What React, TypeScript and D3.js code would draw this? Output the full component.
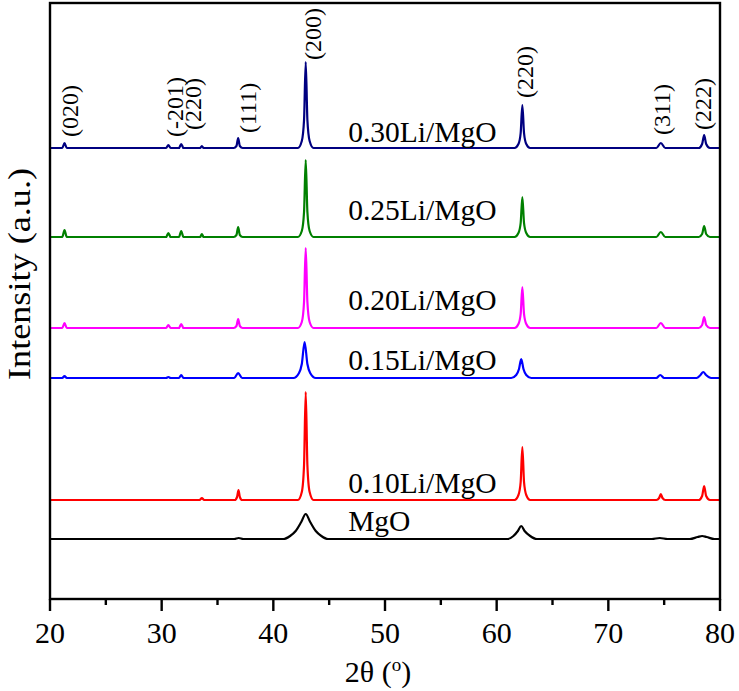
import React from "react";
import * as d3 from "d3";

type Pt = [number, number];

// XRD patterns: [2θ (deg), intensity (a.u.)], each measured from its own baseline
const MGO: Pt[] = [
  [20, 0], [36.5, 0], [36.9, 1], [37.3, 0], [40.9, 0], [41.5, 3], [42.0, 8], [42.5, 17], [42.9, 25],
  [43.3, 17], [43.8, 8], [44.3, 3], [44.9, 0], [61.0, 0], [61.5, 3], [61.9, 8], [62.2, 13], [62.5, 8],
  [63.0, 3], [63.6, 0], [73.9, 0], [74.6, 1], [75.3, 0], [77.3, 0], [78.0, 2], [78.4, 3], [78.8, 2],
  [79.5, 0], [80, 0],
];
const LI_010: Pt[] = [
  [20, 0], [33.4, 0], [33.6, 2], [33.8, 0], [36.55, 0], [36.75, 3], [36.88, 10], [37.0, 3], [37.2, 0],
  [42.2, 0], [42.55, 8], [42.75, 35], [42.9, 108], [43.05, 35], [43.25, 8], [43.6, 0],
  [61.6, 0], [61.95, 5], [62.15, 18], [62.3, 53], [62.45, 18], [62.65, 5], [63.0, 0],
  [74.3, 0], [74.55, 2], [74.7, 6], [74.85, 2], [75.1, 0],
  [78.1, 0], [78.4, 4], [78.58, 14], [78.76, 4], [79.1, 0], [80, 0],
];
const LI_015: Pt[] = [
  [20, 0], [21.1, 0], [21.3, 2], [21.5, 0], [30.4, 0], [30.6, 1], [30.8, 0], [31.55, 0], [31.75, 3],
  [31.95, 0], [36.5, 0], [36.85, 5], [37.2, 0],
  [41.8, 0], [42.3, 5], [42.55, 14], [42.8, 36], [43.05, 14], [43.3, 5], [43.8, 0],
  [61.3, 0], [61.75, 3], [62.0, 9], [62.2, 19], [62.4, 9], [62.65, 3], [63.1, 0],
  [74.3, 0], [74.65, 3], [75.0, 0], [77.9, 0], [78.25, 3], [78.5, 6], [78.75, 3], [79.2, 0], [80, 0],
];
const LI_020: Pt[] = [
  [20, 0], [21.1, 0], [21.3, 5], [21.5, 0], [30.4, 0], [30.6, 3], [30.8, 0], [31.55, 0], [31.75, 4],
  [31.95, 0], [36.45, 0], [36.7, 2], [36.85, 9], [37.0, 2], [37.25, 0],
  [42.2, 0], [42.55, 6], [42.75, 26], [42.9, 80], [43.05, 26], [43.25, 6], [43.6, 0],
  [61.6, 0], [61.95, 4], [62.15, 14], [62.3, 41], [62.45, 14], [62.65, 4], [63.0, 0],
  [74.3, 0], [74.7, 5], [75.1, 0], [78.1, 0], [78.4, 3], [78.58, 11], [78.76, 3], [79.1, 0], [80, 0],
];
const LI_025: Pt[] = [
  [20, 0], [21.1, 0], [21.3, 7], [21.5, 0], [30.4, 0], [30.6, 4], [30.8, 0], [31.55, 0], [31.75, 6],
  [31.95, 0], [33.45, 0], [33.6, 3], [33.75, 0], [36.45, 0], [36.7, 2], [36.85, 10], [37.0, 2], [37.25, 0],
  [42.2, 0], [42.55, 6], [42.75, 25], [42.9, 77], [43.05, 25], [43.25, 6], [43.6, 0],
  [61.6, 0], [61.95, 4], [62.15, 14], [62.3, 40], [62.45, 14], [62.65, 4], [63.0, 0],
  [74.3, 0], [74.7, 5], [75.1, 0], [78.1, 0], [78.4, 3], [78.58, 11], [78.76, 3], [79.1, 0], [80, 0],
];
const LI_030: Pt[] = [
  [20, 0], [21.1, 0], [21.3, 5], [21.5, 0], [30.4, 0], [30.6, 3], [30.8, 0], [31.55, 0], [31.75, 4],
  [31.95, 0], [33.45, 0], [33.6, 2], [33.75, 0], [36.45, 0], [36.7, 2], [36.85, 10], [37.0, 2], [37.25, 0],
  [42.2, 0], [42.55, 7], [42.75, 28], [42.9, 86], [43.05, 28], [43.25, 7], [43.6, 0],
  [61.6, 0], [61.95, 4], [62.15, 15], [62.3, 43], [62.45, 15], [62.65, 4], [63.0, 0],
  [74.3, 0], [74.7, 5], [75.1, 0], [78.1, 0], [78.4, 4], [78.58, 13], [78.76, 4], [79.1, 0], [80, 0],
];

const SERIES_NAMES = ["MgO", "0.10Li/MgO", "0.15Li/MgO", "0.20Li/MgO", "0.25Li/MgO", "0.30Li/MgO"];
const SERIES_DATA = [MGO, LI_010, LI_015, LI_020, LI_025, LI_030];
// vertical stacking offset of each pattern (a.u.)
const SERIES_OFFSETS = [60, 99, 221, 271, 362, 451];

// Miller indices marked above the top pattern, with [2θ, a.u.] anchors
const PEAK_LABELS = ["(020)", "(-201)", "(220)", "(111)", "(200)", "(220)", "(311)", "(222)"];
const PEAK_LABEL_POS: Pt[] = [
  [21.8, 462], [31.2, 462], [32.8, 469], [37.7, 466], [43.55, 539], [62.55, 501], [74.8, 464], [78.5, 469],
];

const X_DOMAIN: Pt = [20, 80];
const X_MINOR = [25, 35, 45, 55, 65, 75];

const COLORS = ["#000000", "#ff0000", "#0000ff", "#ff00ff", "#008000", "#000080"];
const FONT = '"Liberation Serif", "Times New Roman", Times, serif';

export default function App() {
  const W = 739;
  const H = 691;
  const left = 50;
  const right = 720;
  const top = 3;
  const bottom = 599;

  const x = d3.scaleLinear().domain(X_DOMAIN).range([left, right]);
  const y = d3.scaleLinear().domain([0, bottom - top]).range([bottom, top]);

  const labelTheta = 46.7;
  const labelLift = [8, 7, 8, 18, 17, 6];
  const txt = { fontFamily: FONT };

  return (
    <svg
      width={W}
      height={H}
      style={{ position: "absolute", left: 0, top: 0, background: "#fff", fontFamily: FONT }}
    >
      <rect x={0} y={0} width={W} height={H} fill="#fff" />
      {SERIES_DATA.map((data, i) => {
        const off = SERIES_OFFSETS[i];
        const line = d3
          .line<Pt>()
          .x((d) => x(d[0]))
          .y((d) => y(d[1] + off))
          .curve(d3.curveMonotoneX);
        return (
          <path
            key={SERIES_NAMES[i]}
            d={line(data) || ""}
            fill="none"
            stroke={COLORS[i]}
            strokeWidth={2.2}
            strokeLinejoin="round"
          />
        );
      })}

      {SERIES_NAMES.map((name, i) => (
        <text
          key={"lab" + name}
          x={x(labelTheta)}
          y={y(SERIES_OFFSETS[i] + labelLift[i])}
          fontSize={29.5}
          fill="#000"
          style={txt}
        >
          {name}
        </text>
      ))}

      {PEAK_LABELS.map((t, i) => {
        const px = x(PEAK_LABEL_POS[i][0]);
        const py = y(PEAK_LABEL_POS[i][1]);
        return (
          <text
            key={"pk" + i}
            transform={`translate(${px},${py}) rotate(-90)`}
            fontSize={24}
            dominantBaseline="central"
            fill="#000"
            style={txt}
          >
            {t}
          </text>
        );
      })}

      {/* frame */}
      <rect x={left} y={top} width={right - left} height={bottom - top} fill="none" stroke="#000" strokeWidth={2.4} />

      {/* x axis ticks */}
      {x.ticks(6).map((t) => (
        <g key={"t" + t}>
          <line x1={x(t)} x2={x(t)} y1={bottom} y2={bottom + 12} stroke="#000" strokeWidth={2.4} />
          <text x={x(t)} y={643} textAnchor="middle" fontSize={30} fill="#000" style={txt}>
            {t}
          </text>
        </g>
      ))}
      {X_MINOR.map((t) => (
        <line key={"m" + t} x1={x(t)} x2={x(t)} y1={bottom} y2={bottom + 6} stroke="#000" strokeWidth={2.4} />
      ))}

      <text x={378} y={682} textAnchor="middle" fontSize={30} fill="#000" style={txt}>
        2θ (<tspan dy={-11} fontSize={19}>o</tspan><tspan dy={11}>)</tspan>
      </text>

      <text
        transform={`translate(30,274) rotate(-90)`}
        textAnchor="middle"
        fontSize={32}
        textLength={212}
        lengthAdjust="spacingAndGlyphs"
        fill="#000"
        style={txt}
      >
        Intensity (a.u.)
      </text>
    </svg>
  );
}
